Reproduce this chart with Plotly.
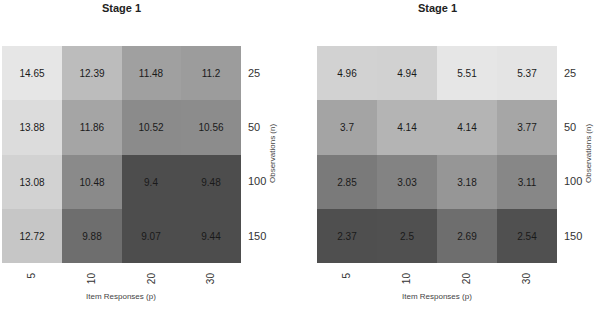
import plotly.graph_objects as go

p_labels = ["5", "10", "20", "30"]
n_labels = ["25", "50", "100", "150"]

left_vals = [
    [14.65, 12.39, 11.48, 11.2],
    [13.88, 11.86, 10.52, 10.56],
    [13.08, 10.48, 9.4, 9.48],
    [12.72, 9.88, 9.07, 9.44],
]
left_text = [
    ["14.65", "12.39", "11.48", "11.2"],
    ["13.88", "11.86", "10.52", "10.56"],
    ["13.08", "10.48", "9.4", "9.48"],
    ["12.72", "9.88", "9.07", "9.44"],
]
right_vals = [
    [4.96, 4.94, 5.51, 5.37],
    [3.7, 4.14, 4.14, 3.77],
    [2.85, 3.03, 3.18, 3.11],
    [2.37, 2.5, 2.69, 2.54],
]
right_text = [
    ["4.96", "4.94", "5.51", "5.37"],
    ["3.7", "4.14", "4.14", "3.77"],
    ["2.85", "3.03", "3.18", "3.11"],
    ["2.37", "2.5", "2.69", "2.54"],
]
titles = ["Stage 1", "Stage 1"]

# colour anchors (value, grey level) - style only
left_anchors = [(9.07, 0x4d), (9.48, 0x4d), (9.88, 0x6e), (10.5, 0x8b), (11.2, 0x9c),
                (11.86, 0xa5), (12.39, 0xbc), (12.72, 0xc6), (13.08, 0xd2), (13.88, 0xdc), (14.65, 0xe6)]
right_anchors = [(2.37, 0x4f), (2.54, 0x50), (2.69, 0x6e), (2.85, 0x7a), (3.11, 0x87),
                 (3.18, 0x96), (3.77, 0xa6), (4.14, 0xb4), (4.96, 0xd2), (5.37, 0xe4), (5.51, 0xe6)]


def make_scale(anchors):
    lo, hi = anchors[0][0], anchors[-1][0]
    sc = []
    for v, g in anchors:
        sc.append([(v - lo) / (hi - lo), f"rgb({g},{g},{g})"])
    return sc, lo, hi


W, H = 597, 311
ml, mr, mt, mb = 2, 40, 46, 48
pw = W - ml - mr
ph = H - mt - mb


def px(x):
    return (x - ml) / pw


def py(y):
    return (H - mb - y) / ph


fig = go.Figure()
panels = [(left_vals, left_text, left_anchors, "x", "y"),
          (right_vals, right_text, right_anchors, "x2", "y2")]
for vals, txt, anchors, xa, ya in panels:
    sc, lo, hi = make_scale(anchors)
    fig.add_trace(go.Heatmap(
        z=vals, x=p_labels, y=n_labels, text=txt, texttemplate="%{text}",
        textfont=dict(size=10, color="#1a1a1a", family="Liberation Sans, Arial"),
        colorscale=sc, zmin=lo, zmax=hi, showscale=False,
        xaxis=xa, yaxis=ya, xgap=0, ygap=0, hoverinfo="skip"))

left_dom = [0, px(241)]
right_dom = [px(317), 1]
tickfont = dict(size=11, color="#333333", family="Liberation Sans, Arial")
xtickfont = dict(size=10, color="#333333", family="Liberation Sans, Arial")
common_x = dict(type="category", tickangle=-90, tickfont=xtickfont, ticks="",
                showgrid=False, zeroline=False, showline=False, ticklabelstandoff=7)
common_y = dict(type="category", autorange="reversed", side="right", tickfont=tickfont,
                ticks="", showgrid=False, zeroline=False, showline=False, ticklabelstandoff=6)
fig.update_layout(
    width=W, height=H,
    margin=dict(l=ml, r=mr, t=mt, b=mb),
    paper_bgcolor="white", plot_bgcolor="white",
    showlegend=False,
    xaxis=dict(domain=left_dom, anchor="y", **common_x),
    yaxis=dict(domain=[0, 1], anchor="x", **common_y),
    xaxis2=dict(domain=right_dom, anchor="y2", **common_x),
    yaxis2=dict(domain=[0, 1], anchor="x2", **common_y),
)

small = dict(size=8, color="#444444", family="Liberation Sans, Arial")
ann = []
for cx, t in [(121, titles[0]), (437, titles[1])]:
    ann.append(dict(x=px(cx), y=py(0), xref="paper", yref="paper", text=f"<b>{t}</b>",
                    showarrow=False, xanchor="center", yanchor="top",
                    font=dict(size=11, color="#222222", family="Liberation Sans, Arial")))
for cx in [121, 437]:
    ann.append(dict(x=px(cx), y=py(296), xref="paper", yref="paper", text="Item Responses (p)",
                    showarrow=False, xanchor="center", yanchor="middle", font=small))
for cx in [272, 588]:
    ann.append(dict(x=px(cx), y=py(154), xref="paper", yref="paper", text="Observations (n)",
                    showarrow=False, xanchor="center", yanchor="middle", textangle=-90, font=small))
fig.update_layout(annotations=ann)

fig.write_html("out.html")
